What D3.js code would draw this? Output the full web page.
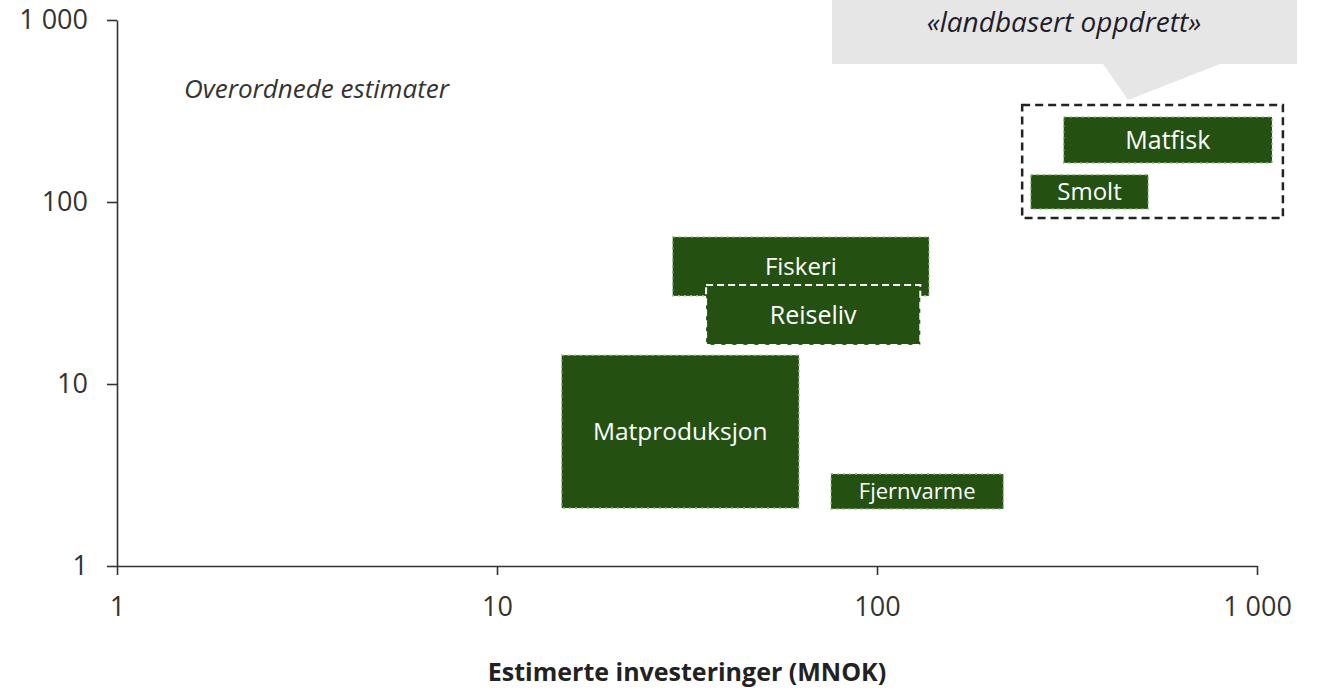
<!DOCTYPE html>
<html>
  <head>
    <meta charset="utf-8">
    <title>Overordnede estimater</title>
    <script src="https://cdn.jsdelivr.net/npm/d3@7"></script>
    <style>
      body { margin: 0; background: #fff; }
      .axis text {
        font-family: 'Open Sans', sans-serif;
        font-size: 27px;
        fill: #333;
      }
      .axis path, .axis line {
        stroke: #333;
        stroke-width: 1.6px;
      }
      .axis-title {
        font-family: 'Open Sans', sans-serif;
        font-size: 25px;
        font-weight: bold;
        fill: #222;
        text-anchor: middle;
      }
      .note {
        font-family: 'Open Sans', sans-serif;
        font-style: italic;
        font-size: 26px;
        fill: #333;
      }
      .box rect {
        fill: #245112;
        stroke: #8dba76;
        stroke-width: 1.5px;
        stroke-dasharray: 2,4;
      }
      .box text {
        font-family: 'Open Sans', sans-serif;
        fill: #fff;
        text-anchor: middle;
      }
      .callout text {
        font-family: 'Open Sans', sans-serif;
        font-style: italic;
        font-size: 28px;
        fill: #1d1d2a;
        text-anchor: middle;
      }
    </style>
  </head>
  <body>
    <script>

      // areas: investment range (x) and second range (y), both log scale
      var names = ["Matfisk", "Smolt", "Fiskeri", "Reiseliv", "Matproduksjon", "Fjernvarme"];
      var xMin  = [310, 254, 29, 35.5, 14.8, 75.7];
      var xMax  = [1095, 517, 137, 130, 62.3, 215];
      var yMin  = [164, 91.6, 30.5, 16.4, 2.08, 2.06];
      var yMax  = [293, 141, 64.2, 35, 14.4, 3.2];

      // group around the land based farming areas
      var groupX = [241, 1170];
      var groupY = [81.7, 341];

      var tickValues = [1, 10, 100, 1000];
      var calloutText = "«landbasert oppdrett»";
      var noteText = "Overordnede estimater";
      var xTitle = "Estimerte investeringer (MNOK)";

      var outerWidth = 1319;
      var outerHeight = 691;
      var margin = { left: 117, top: 20, right: 62, bottom: 125 };
      var innerWidth  = outerWidth  - margin.left - margin.right;
      var innerHeight = outerHeight - margin.top  - margin.bottom;

      var labelSize = { Matfisk: 25, Smolt: 24, Fiskeri: 24, Reiseliv: 25, Matproduksjon: 24.5, Fjernvarme: 22 };

      var svg = d3.select("body").append("svg")
        .attr("width",  outerWidth)
        .attr("height", outerHeight);

      var g = svg.append("g")
        .attr("transform", "translate(" + margin.left + "," + margin.top + ")");

      var xScale = d3.scaleLog().domain([1, 1000]).range([0, innerWidth]);
      var yScale = d3.scaleLog().domain([1, 1000]).range([innerHeight, 0]);

      var fmt = function(d) { return d3.format(",")(d).replace(",", " "); };

      // callout (drawn first, behind)
      var callout = svg.append("g").attr("class", "callout");
      callout.append("path")
        .attr("d", "M832,-5 L1297,-5 L1297,64 L1220,64 L1128,100 L1103,64 L832,64 Z")
        .attr("fill", "#e6e6e6");
      callout.append("text")
        .attr("x", 1064)
        .attr("y", 32)
        .text(calloutText);

      var data = names.map(function(n, i) {
        return { name: n, x0: xMin[i], x1: xMax[i], y0: yMin[i], y1: yMax[i] };
      });

      var boxes = g.selectAll(".box").data(data).enter().append("g")
        .attr("class", "box");

      boxes.append("rect")
        .attr("x", function(d) { return xScale(d.x0); })
        .attr("y", function(d) { return yScale(d.y1); })
        .attr("width", function(d) { return xScale(d.x1) - xScale(d.x0); })
        .attr("height", function(d) { return yScale(d.y0) - yScale(d.y1); })
        .filter(function(d) { return d.name === "Reiseliv"; })
        .style("stroke", "#fff")
        .style("stroke-width", "2px")
        .style("stroke-dasharray", "7,4");

      boxes.append("text")
        .attr("x", function(d) { return (xScale(d.x0) + xScale(d.x1)) / 2; })
        .attr("y", function(d) { return (yScale(d.y0) + yScale(d.y1)) / 2; })
        .attr("dy", "0.35em")
        .style("font-size", function(d) { return labelSize[d.name] + "px"; })
        .text(function(d) { return d.name; });

      g.append("rect")
        .attr("x", xScale(groupX[0]))
        .attr("y", yScale(groupY[1]))
        .attr("width", xScale(groupX[1]) - xScale(groupX[0]))
        .attr("height", yScale(groupY[0]) - yScale(groupY[1]))
        .attr("fill", "none")
        .attr("stroke", "#222")
        .attr("stroke-width", 2.5)
        .attr("stroke-dasharray", "8,5");

      var xAxis = d3.axisBottom(xScale)
        .tickValues(tickValues)
        .tickFormat(fmt)
        .tickSizeInner(9)
        .tickSizeOuter(0)
        .tickPadding(22);
      var yAxis = d3.axisLeft(yScale)
        .tickValues(tickValues)
        .tickFormat(fmt)
        .tickSizeInner(10)
        .tickSizeOuter(0)
        .tickPadding(19);

      g.append("g")
        .attr("class", "x axis")
        .attr("transform", "translate(0," + innerHeight + ")")
        .call(xAxis);
      g.append("g")
        .attr("class", "y axis")
        .call(yAxis);

      svg.append("text")
        .attr("class", "note")
        .attr("x", 184)
        .attr("y", 98)
        .text(noteText);

      svg.append("text")
        .attr("class", "axis-title")
        .attr("x", 687)
        .attr("y", 681)
        .text(xTitle);

    </script>
  </body>
</html>
